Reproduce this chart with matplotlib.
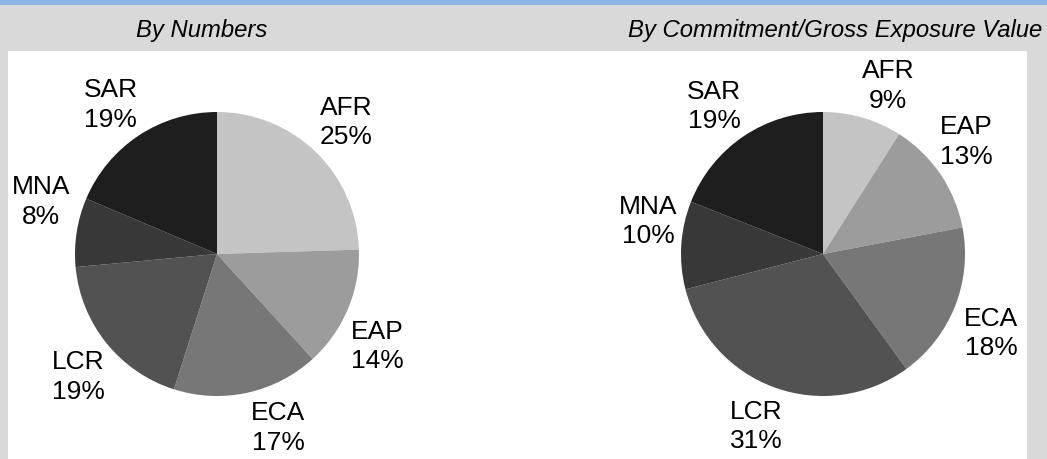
import matplotlib.pyplot as plt
from matplotlib.patches import Rectangle

regions = ['AFR', 'EAP', 'ECA', 'LCR', 'MNA', 'SAR']
by_numbers = [25, 14, 17, 19, 8, 19]
by_value = [9, 13, 18, 31, 10, 19]
titles = ['By Numbers', 'By Commitment/Gross Exposure Value']
greys = ['#c4c4c4', '#9c9c9c', '#777777', '#525252', '#383838', '#1e1e1e']

# small label nudges (pixels, x right / y down) to mimic the "best fit" placement
nudges = [
    [(2, -1), (-8, 20), (22, -6), (4, 7), (5, -25), (-5, 3)],
    [(14, 7), (-8, -10), (-2, 11), (-5, -1), (8, -22), (-6, 3)],
]

W, H = 1047, 460
fig = plt.figure(figsize=(W / 100, H / 100), dpi=100)
fig.patch.set_facecolor('#d9d9d9')

# blue strip on top + white panel (behind the pies)
fig.patches.append(Rectangle((0, 1 - 6 / H), 1, 6 / H, transform=fig.transFigure,
                             facecolor='#8db3e2', edgecolor='none', zorder=-2))
fig.patches.append(Rectangle((8 / W, 0), (1027 - 8) / W, (H - 52) / H, transform=fig.transFigure,
                             facecolor='white', edgecolor='none', zorder=-2))

fig.text(202 / W, 1 - 30 / H, titles[0], ha='center', va='center', fontsize=17.2,
         style='italic', family='Liberation Sans')
fig.text(835 / W, 1 - 30 / H, titles[1], ha='center', va='center', fontsize=17.2,
         style='italic', family='Liberation Sans')

r = 142
lim = 1.7
for cx, vals, nud in [(217, by_numbers, nudges[0]), (823, by_value, nudges[1])]:
    cy = 255
    size = 2 * lim * r
    ax = fig.add_axes([(cx - size / 2) / W, (H - cy - size / 2) / H, size / W, size / H])
    ax.patch.set_alpha(0)
    wedges, texts = ax.pie(vals, colors=greys, startangle=90, counterclock=False, radius=1,
                           labels=[f'{n}\n{v}%' for n, v in zip(regions, vals)],
                           labeldistance=1.29,
                           textprops=dict(fontsize=19, family='Liberation Sans',
                                          va='center', linespacing=1.3),
                           wedgeprops=dict(linewidth=0))
    for t, (dx, dy) in zip(texts, nud):
        t.set_horizontalalignment('center')
        x, y = t.get_position()
        t.set_position((x + dx / r, y - dy / r))
    ax.set_xlim(-lim, lim)
    ax.set_ylim(-lim, lim)
    ax.set_aspect('equal')
    ax.axis('off')

plt.savefig('out.png', dpi=100, facecolor=fig.get_facecolor())
